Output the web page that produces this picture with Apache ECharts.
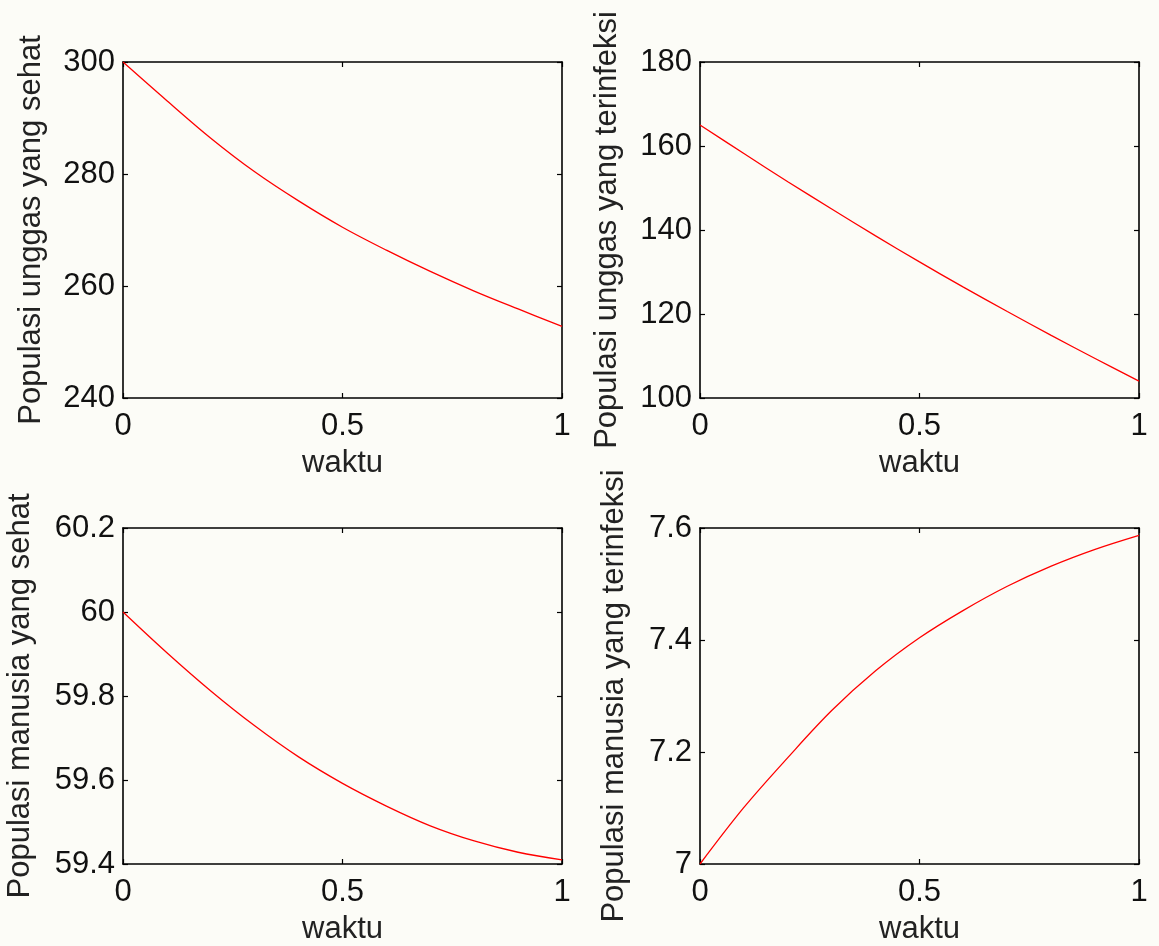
<!DOCTYPE html>
<html>
<head>
<meta charset="utf-8">
<script src="https://cdn.jsdelivr.net/npm/echarts@6/dist/echarts.min.js"></script>
<style>
  html, body { margin: 0; padding: 0; background: #fcfcf7; }
  #chart { width: 1159px; height: 946px; }
</style>
</head>
<body>
<div id="chart"></div>
<script>
// time grid (waktu)
const waktu = [0, 0.1, 0.2, 0.3, 0.4, 0.5, 0.6, 0.7, 0.8, 0.9, 1.0];

// population trajectories
const unggasSehat       = [300.0, 293.1, 286.4, 280.4, 275.2, 270.5, 266.4, 262.6, 259.1, 255.9, 252.8];
const unggasTerinfeksi  = [165.0, 158.2, 151.5, 145.0, 138.6, 132.4, 126.4, 120.6, 114.9, 109.4, 104.0];
const manusiaSehat      = [60.000, 59.903, 59.812, 59.729, 59.655, 59.592, 59.538, 59.491, 59.455, 59.428, 59.410];
const manusiaTerinfeksi = [7.000, 7.101, 7.190, 7.274, 7.345, 7.404, 7.453, 7.496, 7.532, 7.562, 7.587];

// axis labels and ranges
const xName = 'waktu';
const yNames = [
  'Populasi unggas yang sehat',
  'Populasi unggas yang terinfeksi',
  'Populasi manusia yang sehat',
  'Populasi manusia yang terinfeksi'
];
const yRanges = [
  { min: 240, max: 300, interval: 20 },
  { min: 100, max: 180, interval: 20 },
  { min: 59.4, max: 60.2, interval: 0.2 },
  { min: 7, max: 7.6, interval: 0.2 }
];
const xRange = { min: 0, max: 1, interval: 0.5 };
const seriesData = [unggasSehat, unggasTerinfeksi, manusiaSehat, manusiaTerinfeksi];

// panel geometry
const panels = [
  { left: 123, top: 62,  yGap: 76 },
  { left: 700, top: 62,  yGap: 77 },
  { left: 123, top: 528, yGap: 87 },
  { left: 700, top: 528, yGap: 70 }
];
const panelW = 439, panelH = 336;

const FONT = "'Liberation Sans', Arial, Helvetica, sans-serif";
const FS = 31;
const INK = '#111111';

const frameLine = { show: true, onZero: false, lineStyle: { color: '#000', width: 1.6 } };
const innerTick = { show: true, inside: true, length: 5, lineStyle: { color: '#000', width: 1.2 } };

const grid = [], xAxis = [], yAxis = [], series = [];

panels.forEach((p, i) => {
  grid.push({ left: p.left, top: p.top, width: panelW, height: panelH, containLabel: false });

  // bottom x axis with labels
  xAxis.push({
    type: 'value', gridIndex: i, position: 'bottom',
    min: xRange.min, max: xRange.max, interval: xRange.interval,
    axisLine: frameLine, axisTick: innerTick, splitLine: { show: false },
    axisLabel: { show: true, margin: 13, color: INK, fontSize: FS, fontFamily: FONT,
                 showMinLabel: true, showMaxLabel: true },
    name: xName, nameLocation: 'middle', nameGap: 50,
    nameTextStyle: { color: '#222', fontSize: FS, fontFamily: FONT }
  });
  // top x axis: frame edge + ticks
  xAxis.push({
    type: 'value', gridIndex: i, position: 'top',
    min: xRange.min, max: xRange.max, interval: xRange.interval,
    axisLine: frameLine, axisTick: innerTick, splitLine: { show: false },
    axisLabel: { show: false }
  });

  const r = yRanges[i];
  // left y axis with labels
  yAxis.push({
    type: 'value', gridIndex: i, position: 'left',
    min: r.min, max: r.max, interval: r.interval,
    axisLine: frameLine, axisTick: innerTick, splitLine: { show: false },
    axisLabel: { show: true, margin: 8, color: INK, fontSize: FS, fontFamily: FONT,
                 showMinLabel: true, showMaxLabel: true },
    name: yNames[i], nameLocation: 'middle', nameGap: p.yGap, nameRotate: 90,
    nameTextStyle: { color: '#222', fontSize: FS, fontFamily: FONT }
  });
  // right y axis: frame edge + ticks
  yAxis.push({
    type: 'value', gridIndex: i, position: 'right',
    min: r.min, max: r.max, interval: r.interval,
    axisLine: frameLine, axisTick: innerTick, splitLine: { show: false },
    axisLabel: { show: false }
  });

  series.push({
    type: 'line',
    xAxisIndex: 2 * i, yAxisIndex: 2 * i,
    data: waktu.map((t, k) => [t, seriesData[i][k]]),
    smooth: 0.35,
    showSymbol: false, silent: true,
    lineStyle: { color: '#ff0000', width: 1.3 },
    z: 1
  });
});

const chart = echarts.init(document.getElementById('chart'), null, { renderer: 'canvas' });
chart.setOption({
  animation: false,
  backgroundColor: '#fcfcf7',
  textStyle: { fontFamily: FONT },
  grid, xAxis, yAxis, series
});
</script>
</body>
</html>
